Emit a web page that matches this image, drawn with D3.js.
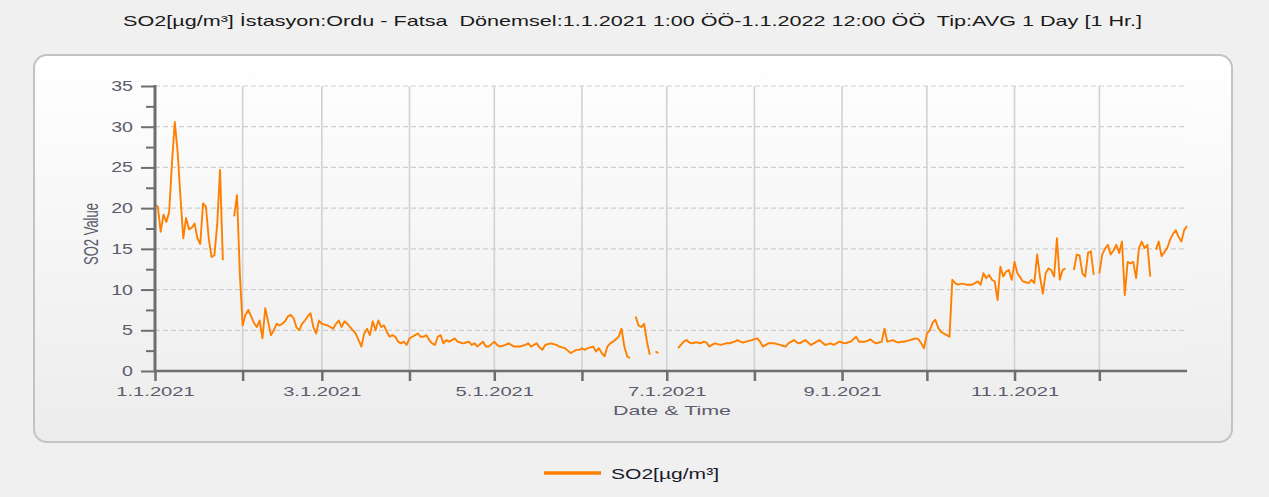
<!DOCTYPE html>
<html>
<head>
<meta charset="utf-8">
<script src="https://cdn.jsdelivr.net/npm/d3@7"></script>
<style>
  html, body { margin: 0; padding: 0; background: #f0f0f0; }
  svg { display: block; }
  text { font-family: "Liberation Sans", Arial, sans-serif; }
</style>
</head>
<body>
<svg id="chart" width="1269" height="497"></svg>
<script>
// ---- data (daily averages, SO2 µg/m³), starting 1.1.2021 ----
const startDate = [2021, 0, 1];
const janValues = [20.4, 20.2, 17.1, 19.2, 18.3, 19.5, 25.5, 30.6, 26.9, 21.4, 16.3, 18.8, 17.4, 17.6, 18.1, 16.3, 15.6, 20.6, 20.2, 16.3, 14.0, 14.2, 18.0, 24.7, 13.6, null, null, null, 19.0, 21.6, 12.0];
const febValues = [5.6, 6.9, 7.5, 6.7, 5.9, 5.4, 6.2, 4.0, 7.7, 6.1, 4.4, 5.0, 5.8, 5.6, 5.8, 6.1, 6.7, 6.9, 6.5, 5.4, 5.0, 5.8, 6.2, 6.7, 7.1, 5.4, 4.6, 6.2];
const marValues = [5.8, 5.7, 5.6, 5.4, 5.2, 5.8, 6.2, 5.4, 6.1, 5.8, 5.4, 5.0, 4.6, 3.8, 3.0, 4.6, 5.2, 4.4, 6.1, 5.0, 6.2, 5.4, 5.6, 4.8, 4.2, 4.4, 4.2, 3.6, 3.4, 3.6, 3.2];
const aprValues = [4.0, 4.2, 4.4, 4.6, 4.2, 4.2, 4.4, 3.8, 3.4, 3.2, 4.2, 4.4, 3.4, 3.8, 3.6, 3.8, 4.0, 3.6, 3.5, 3.4, 3.5, 3.6, 3.2, 3.4, 3.0, 3.3, 3.6, 3.0, 3.0, 3.3];
const mayValues = [3.6, 3.2, 3.0, 3.1, 3.2, 3.4, 3.2, 3.0, 3.0, 3.0, 3.1, 3.2, 3.4, 3.0, 3.2, 3.4, 2.9, 2.6, 3.2, 3.3, 3.4, 3.3, 3.2, 3.0, 2.9, 2.8, 2.5, 2.2, 2.4, 2.6, 2.6];
const junValues = [2.8, 2.6, 2.8, 2.9, 3.0, 2.4, 2.8, 2.2, 1.8, 3.0, 3.4, 3.6, 3.9, 4.2, 5.2, 3.0, 1.8, 1.6, null, 6.7, 5.6, 5.4, 5.8, 3.6, 2.0, null, 2.4, 2.2, null, null];
const julValues = [null, null, null, null, 2.8, 3.2, 3.6, 3.8, 3.5, 3.4, 3.5, 3.5, 3.4, 3.6, 3.5, 3.0, 3.2, 3.4, 3.3, 3.2, 3.3, 3.4, 3.4, 3.5, 3.6, 3.8, 3.6, 3.5, 3.6, 3.7, 3.8];
const augValues = [3.9, 4.0, 3.6, 3.0, 3.2, 3.4, 3.4, 3.4, 3.3, 3.2, 3.1, 3.0, 3.4, 3.6, 3.8, 3.5, 3.4, 3.6, 3.8, 3.5, 3.2, 3.4, 3.6, 3.8, 3.5, 3.2, 3.3, 3.4, 3.2, 3.4, 3.6];
const sepValues = [3.5, 3.4, 3.5, 3.6, 3.9, 4.2, 3.6, 3.6, 3.6, 3.7, 3.9, 3.6, 3.4, 3.5, 3.6, 5.2, 3.6, 3.7, 3.8, 3.6, 3.5, 3.6, 3.6, 3.7, 3.8, 3.9, 4.0, 3.9, 3.4, 2.8];
const octValues = [4.6, 5.0, 5.9, 6.3, 5.3, 4.8, 4.6, 4.4, 4.2, 11.2, 10.8, 10.6, 10.7, 10.7, 10.6, 10.6, 10.6, 10.8, 11.0, 10.6, 12.0, 11.4, 11.8, 11.2, 11.0, 8.7, 12.8, 11.6, 12.2, 12.4, 11.2];
const novValues = [13.4, 12.0, 11.5, 11.0, 10.9, 10.8, 11.2, 10.8, 14.3, 11.6, 9.5, 12.0, 12.6, 12.4, 11.6, 16.3, 11.2, 12.4, 12.6, null, null, 12.4, 14.3, 14.2, 12.0, 11.6, 14.5, 14.7, 11.8, null];
const decValues = [12.0, 14.3, 15.0, 15.5, 14.3, 14.8, 15.5, 14.5, 15.9, 9.3, 13.4, 13.2, 13.4, 11.4, 15.1, 15.9, 15.1, 15.5, 11.6, null, 14.9, 15.9, 14.1, 14.6, 15.1, 16.1, 16.8, 17.3, 16.5, 15.9, 17.3];
const nextYearValues = [17.8];

const yTicks = [0, 5, 10, 15, 20, 25, 30, 35];
const yMinorTicks = [2.5, 7.5, 12.5, 17.5, 22.5, 27.5, 32.5];
const xTickLabels = ["1.1.2021", "", "3.1.2021", "", "5.1.2021", "", "7.1.2021", "", "9.1.2021", "", "11.1.2021", ""];

const titleText = "SO2[µg/m³] İstasyon:Ordu - Fatsa  Dönemsel:1.1.2021 1:00 ÖÖ-1.1.2022 12:00 ÖÖ  Tip:AVG 1 Day [1 Hr.]";
const seriesName = "SO2[µg/m³]";
const yAxisTitle = "SO2 Value";
const xAxisTitle = "Date & Time";

// ---- build ----
const allValues = [].concat(janValues, febValues, marValues, aprValues, mayValues, junValues,
  julValues, augValues, sepValues, octValues, novValues, decValues, nextYearValues);
const t0 = Date.UTC(startDate[0], startDate[1], startDate[2]);
const data = allValues.map((v, i) => ({ date: new Date(t0 + i * 86400000), value: v }));

const svg = d3.select("#chart");
const W = 1269, H = 497;
const plot = { left: 155, right: 1187, top: 86, bottom: 371 };
const orange = "#ff8000";
const axisGrey = "#6e6e6e";
const labelColor = "#5b5b6b";

const defs = svg.append("defs");
const pg = defs.append("linearGradient").attr("id", "panelGrad").attr("x1", 0).attr("y1", 0).attr("x2", 0).attr("y2", 1);
pg.append("stop").attr("offset", "0%").attr("stop-color", "#ffffff");
pg.append("stop").attr("offset", "100%").attr("stop-color", "#ececec");
const ag = defs.append("linearGradient").attr("id", "plotGrad").attr("x1", 0).attr("y1", 0).attr("x2", 0).attr("y2", 1);
ag.append("stop").attr("offset", "0%").attr("stop-color", "#fdfdfd");
ag.append("stop").attr("offset", "100%").attr("stop-color", "#f0f0f0");

// background
svg.append("rect").attr("width", W).attr("height", H).attr("fill", "#f0f0f0");

// title
svg.append("text")
  .attr("x", 123).attr("y", 26)
  .attr("font-size", 15).attr("fill", "#1a1a1a")
  .attr("textLength", 1019).attr("lengthAdjust", "spacingAndGlyphs")
  .style("white-space", "pre")
  .text(titleText);

// panel
svg.append("rect")
  .attr("x", 34).attr("y", 55).attr("width", 1198).attr("height", 387)
  .attr("rx", 13).attr("ry", 13)
  .attr("fill", "url(#panelGrad)").attr("stroke", "#c3c3c3").attr("stroke-width", 2);

// plot background
svg.append("rect")
  .attr("x", plot.left).attr("y", plot.top)
  .attr("width", plot.right - plot.left).attr("height", plot.bottom - plot.top)
  .attr("fill", "url(#plotGrad)");

// scales
const x = d3.scaleUtc()
  .domain([new Date(t0), new Date(Date.UTC(startDate[0] + 1, 0, 1))])
  .range([plot.left, plot.right]);
const y = d3.scaleLinear().domain([0, 35]).range([plot.bottom, plot.top]);

const monthTicks = d3.utcMonth.range(new Date(t0), new Date(Date.UTC(startDate[0] + 1, 0, 1)));

// horizontal dashed grid
svg.append("g").selectAll("line").data(yTicks.filter(d => d > 0)).join("line")
  .attr("x1", plot.left).attr("x2", plot.right)
  .attr("y1", d => y(d)).attr("y2", d => y(d))
  .attr("stroke", "#cfcfcf").attr("stroke-width", 1.2).attr("stroke-dasharray", "5,3");

// vertical grid
svg.append("g").selectAll("line").data(monthTicks.slice(1)).join("line")
  .attr("x1", d => x(d)).attr("x2", d => x(d))
  .attr("y1", plot.top).attr("y2", plot.bottom)
  .attr("stroke", "#d2d2d2").attr("stroke-width", 1.6);

// line
const line = d3.line()
  .defined(d => d.value !== null)
  .x(d => x(d.date)).y(d => y(d.value));
svg.append("path").datum(data)
  .attr("d", line).attr("fill", "none")
  .attr("stroke", orange).attr("stroke-width", 1.9).attr("stroke-linejoin", "round");

// y axis
const yAxis = d3.axisLeft(y).tickValues(yTicks).tickSize(14).tickPadding(8);
const gy = svg.append("g").attr("transform", `translate(${plot.left},0)`).call(yAxis);
gy.select(".domain").remove();
gy.selectAll(".tick line").attr("stroke", axisGrey).attr("stroke-width", 2);
gy.selectAll(".tick text")
  .attr("font-size", 14).attr("fill", labelColor)
  .attr("font-family", "'Liberation Sans', Arial, sans-serif")
  .attr("transform", "scale(1.4,1)")
  .attr("x", -22 / 1.4);
const yMinor = d3.axisLeft(y).tickValues(yMinorTicks).tickSize(9).tickFormat("");
const gym = svg.append("g").attr("transform", `translate(${plot.left},0)`).call(yMinor);
gym.select(".domain").remove();
gym.selectAll(".tick line").attr("stroke", axisGrey).attr("stroke-width", 2);
svg.append("line")
  .attr("x1", plot.left).attr("x2", plot.left)
  .attr("y1", plot.top - 1).attr("y2", plot.bottom + 1)
  .attr("stroke", axisGrey).attr("stroke-width", 3);

// x axis
const xAxis = d3.axisBottom(x).tickValues(monthTicks).tickSize(10).tickPadding(6)
  .tickFormat((d, i) => xTickLabels[i]);
const gx = svg.append("g").attr("transform", `translate(0,${plot.bottom})`).call(xAxis);
gx.select(".domain").remove();
gx.selectAll(".tick line").attr("stroke", axisGrey).attr("stroke-width", 2.5);
gx.selectAll(".tick text")
  .attr("font-size", 13.5).attr("fill", labelColor)
  .attr("font-family", "'Liberation Sans', Arial, sans-serif")
  .attr("y", 15)
  .each(function () {
    const t = d3.select(this);
    const n = t.text().length;
    if (n) t.attr("textLength", n * 9.8).attr("lengthAdjust", "spacingAndGlyphs");
  });
svg.append("line")
  .attr("x1", plot.left - 1).attr("x2", plot.right)
  .attr("y1", plot.bottom).attr("y2", plot.bottom)
  .attr("stroke", axisGrey).attr("stroke-width", 2.5);

// axis titles
svg.append("text")
  .attr("x", 672).attr("y", 415).attr("text-anchor", "middle")
  .attr("font-size", 13.5).attr("fill", labelColor)
  .attr("textLength", 118).attr("lengthAdjust", "spacingAndGlyphs")
  .text(xAxisTitle);
svg.append("text")
  .attr("transform", "translate(98,234) rotate(-90) scale(1,1.45)")
  .attr("text-anchor", "middle")
  .attr("font-size", 13.5).attr("fill", labelColor)
  .attr("textLength", 62).attr("lengthAdjust", "spacingAndGlyphs")
  .text(yAxisTitle);

// legend
svg.append("line")
  .attr("x1", 544).attr("x2", 601).attr("y1", 473).attr("y2", 473)
  .attr("stroke", orange).attr("stroke-width", 3.5);
svg.append("text")
  .attr("x", 611).attr("y", 479)
  .attr("font-size", 15.5).attr("fill", "#1a1a2a")
  .attr("textLength", 108).attr("lengthAdjust", "spacingAndGlyphs")
  .text(seriesName);
</script>
</body>
</html>
